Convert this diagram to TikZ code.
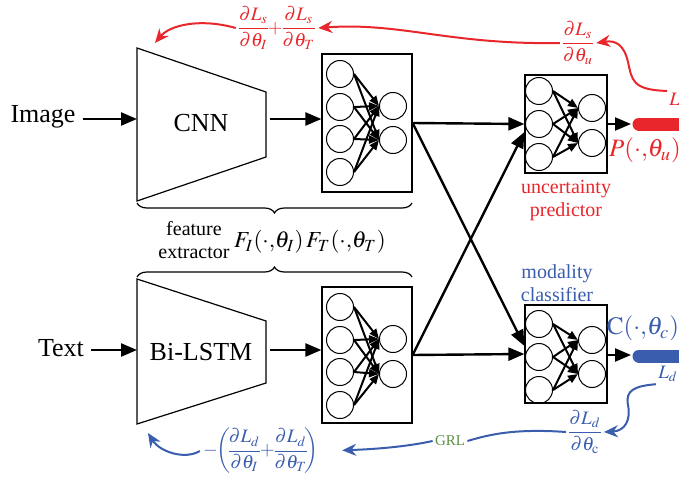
\documentclass[tikz,border=0pt]{standalone}
\usepackage{amsmath}
\usepackage{mathptmx}
\usepackage{fontspec}
\setmainfont{Liberation Serif}
\usetikzlibrary{arrows.meta,decorations.pathreplacing,positioning,calc}
\definecolor{lossred}{RGB}{232,38,43}
\definecolor{lossblue}{RGB}{58,93,174}
\definecolor{grlgreen}{RGB}{95,145,70}
\nulldelimiterspace=0pt
% name, centre, width, height, left rows, right rows
\newcommand{\nnet}[6]{%
  \node[nnbox,minimum width=#3,minimum height=#4] (#1) at #2 {};
  \foreach \y [count=\i] in {#5} \node[neuron] (#1-a\i) at ($(#1)+(-27,\y)$) {};
  \foreach \y [count=\j] in {#6} \node[neuron] (#1-b\j) at ($(#1)+(26,\y)$) {};
  \foreach \y [count=\i] in {#5} \foreach \z [count=\j] in {#6} \draw[syn] (#1-a\i.east) -- (#1-b\j.west);
}

\begin{document}
\begin{tikzpicture}[x=0.5pt,y=-0.5pt,
    every node/.style={font=\fontsize{13}{15}\selectfont},
    nnbox/.style={draw,line width=0.6pt,inner sep=0pt},
    neuron/.style={draw,circle,line width=0.5pt,minimum size=13.5pt,inner sep=0pt},
    flow/.style={line width=1.2pt,-{Triangle[length=8pt,width=6.5pt]}},
    syn/.style={line width=1pt,-{Triangle[length=5pt,width=4pt]}},
    grad/.style={line width=1pt,-{Stealth[length=7pt,width=6pt]}},
    small/.style={font=\fontsize{10}{11.5}\selectfont,align=center},
    frac/.style={font=\fontsize{9.5}{11}\selectfont,inner sep=1.5pt}]
  \useasboundingbox (0,0) rectangle (679,481);

  \node (img) at (43,117) {Image};
  \node (txt) at (61,348) {Text};

  % feature extractors
  \draw[line width=0.6pt] (137,48) -- (266,92) -- (266,157) -- (137,201) -- cycle;
  \draw[line width=0.6pt] (137,279) -- (266,321) -- (266,383) -- (137,424) -- cycle;
  \node (cnn) at (201,123) {CNN};
  \node (lstm) at (201,352) {Bi-LSTM};
  \coordinate (cnn-w) at (137,119);
  \coordinate (cnn-e) at (270,119);
  \coordinate (lstm-w) at (137,350);
  \coordinate (lstm-e) at (270,350);

  \nnet{fi}{(367,123)}{45pt}{69pt}{-49,-16,16,49}{-17,17}
  \nnet{ft}{(367,355)}{45pt}{68pt}{-48,-15,17,50}{-16,19}
  \nnet{up}{(566,124)}{41pt}{49pt}{-33,0,33}{-16,19}
  \nnet{mc}{(566,354)}{41pt}{49pt}{-30,3,36}{-14,20}

  \draw[flow] (img.east |- cnn-w) -- (cnn-w);
  \draw[flow] (txt.east |- lstm-w) -- (lstm-w);
  \draw[flow] (cnn-e) -- (cnn-e -| fi.west);
  \draw[flow] (lstm-e) -- (lstm-e -| ft.west);

  \draw[flow] (fi.east) -- (up.west);
  \draw[flow] (fi.east) -- ($(mc.west)+(0,-8)$);
  \draw[flow] (ft.east) -- (mc.west);
  \draw[flow] (ft.east) -- ($(up.west)+(0,8)$);

  \draw[decorate,decoration={brace,amplitude=5pt,mirror},line width=0.6pt] (137,203) -- (412,203);
  \draw[decorate,decoration={brace,amplitude=5pt},line width=0.6pt] (137,277) -- (412,277);
  \node[small] (fe) at (194,240) {feature\\extractor};
  \node[font=\fontsize{11.5}{14}\selectfont,inner sep=1pt] (fparam) at (310,242) {$F_I(\cdot{,}\theta_I)\,F_T(\cdot{,}\theta_T)$};

  % uncertainty branch
  \coordinate (pbar) at (631,124);
  \draw[flow] (up.east) -- (pbar);
  \draw[lossred,line width=6.5pt,line cap=round] (639,124) -- (700,124);
  \node[small,text=lossred] (upl) at (566,201) {uncertainty\\predictor};
  \node[text=lossred,font=\fontsize{12.5}{15}\selectfont,inner sep=1pt] (pu) at (645,150) {$P(\cdot{,}\theta_u)$};
  \node[text=lossred,frac,inner sep=1pt] (ls) at (678,101) {$L_s$};
  \node[text=lossred,frac] (dlsu) at (578,43) {$\dfrac{\partial L_s}{\partial\theta_u}$};
  \node[text=lossred,frac] (dlsit) at (277,28) {$\dfrac{\partial L_s}{\partial\theta_I}{+}\dfrac{\partial L_s}{\partial\theta_T}$};
  \coordinate (cnn-back) at (155,43);
  \draw[grad,lossred] (ls.north west) .. controls (632,90) and (632,80) .. (628,62) .. controls (624,45) and (616,40) .. (dlsu.east);
  \draw[grad,lossred] (dlsu.west) .. controls (450,45) and (400,22) .. (dlsit.east);
  \draw[grad,lossred] (dlsit.west) .. controls (200,18) and (170,25) .. (cnn-back);

  % modality branch
  \coordinate (cbar) at (631,355);
  \draw[flow] (ft.east -| mc.east) -- (cbar);
  \draw[lossblue,line width=6.5pt,line cap=round] (639,356) -- (700,356);
  \node[small,text=lossblue] (mcl) at (557,283) {modality\\classifier};
  \node[text=lossblue,font=\fontsize{12.5}{15}\selectfont,inner sep=1pt] (cc) at (643,328) {$\mathrm{C}(\cdot{,}\theta_c)$};
  \node[text=lossblue,frac,inner sep=1pt] (ld) at (668,374) {$L_d$};
  \node[text=lossblue,frac] (dldc) at (585,432) {$\dfrac{\partial L_d}{\partial\theta_{\mathrm{c}}}$};
  \node[text=grlgreen,font=\fontsize{7.5}{9}\selectfont,inner sep=1pt] (grl) at (450,441) {GRL};
  \node[text=lossblue,frac] (dldit) at (261,451) {${-}\mkern-3mu\left(\mkern-2mu\dfrac{\partial L_d}{\partial\theta_I}{+}\dfrac{\partial L_d}{\partial\theta_T}\mkern-2mu\right)$};
  \coordinate (lstm-back) at (148,433);
  \draw[grad,lossblue] (ld.south west) .. controls (635,386) and (625,390) .. (628,405) .. controls (631,420) and (625,431) .. (dldc.east);
  \draw[lossblue,line width=1pt] (dldc.west) .. controls (510,428) and (485,436) .. (grl.east);
  \draw[grad,lossblue,shorten >=10pt] (grl.west) .. controls (410,446) and (380,449) .. (dldit.east);
  \draw[grad,lossblue] (dldit.west) .. controls (185,460) and (160,452) .. (lstm-back);
\end{tikzpicture}
\end{document}
